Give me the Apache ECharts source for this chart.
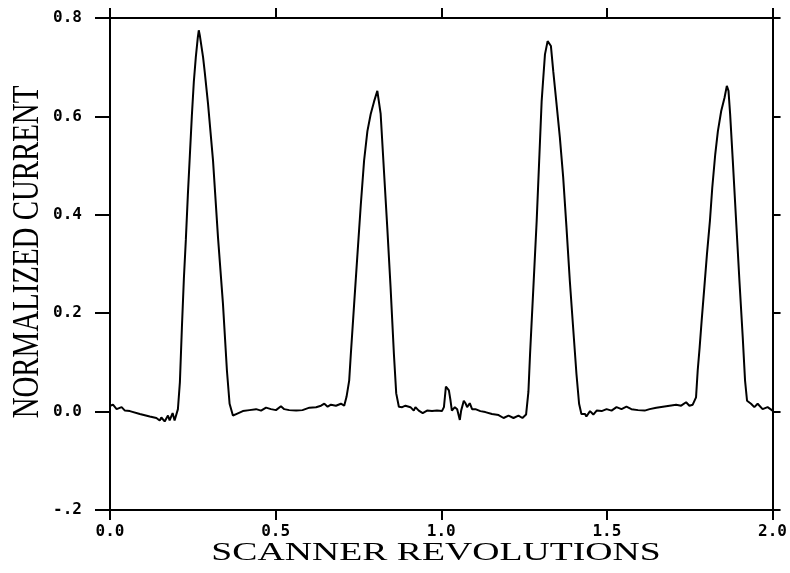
<!DOCTYPE html>
<html>
<head>
<meta charset="utf-8">
<script src="https://cdn.jsdelivr.net/npm/echarts@6/dist/echarts.min.js"></script>
<style>
  html, body { margin: 0; background: #fff; }
  #chart { width: 790px; height: 573px; }
</style>
</head>
<body>
<div id="chart"></div>
<script>
// scanner position (revolutions) and normalized current
const revolutions = [
  0.000, 0.009, 0.020, 0.035, 0.045, 0.060, 0.090, 0.120, 0.140, 0.150, 0.155, 0.165, 0.175, 0.180, 0.189, 0.195,
  0.205, 0.211, 0.217, 0.223, 0.229, 0.235, 0.241, 0.247, 0.253, 0.259, 0.265, 0.268, 0.271, 0.281, 0.286, 0.296,
  0.311, 0.326, 0.341, 0.353, 0.361, 0.371, 0.381, 0.401, 0.421, 0.441, 0.456, 0.471, 0.486, 0.501, 0.516, 0.526,
  0.541, 0.562, 0.581, 0.602, 0.622, 0.637, 0.647, 0.657, 0.667, 0.682, 0.697, 0.707, 0.714, 0.722, 0.727, 0.737,
  0.747, 0.757, 0.767, 0.777, 0.787, 0.797, 0.807, 0.817, 0.827, 0.837, 0.847, 0.857, 0.864, 0.872, 0.882, 0.892,
  0.907, 0.917, 0.922, 0.932, 0.944, 0.957, 0.972, 0.987, 1.002, 1.008, 1.014, 1.023, 1.028, 1.032, 1.041, 1.048,
  1.056, 1.060, 1.068, 1.073, 1.078, 1.086, 1.093, 1.103, 1.118, 1.133, 1.153, 1.173, 1.188, 1.203, 1.218, 1.233,
  1.245, 1.256, 1.263, 1.268, 1.273, 1.278, 1.283, 1.288, 1.293, 1.298, 1.303, 1.308, 1.313, 1.321, 1.325, 1.331,
  1.338, 1.348, 1.358, 1.368, 1.378, 1.388, 1.398, 1.408, 1.416, 1.423, 1.434, 1.438, 1.449, 1.459, 1.469, 1.484,
  1.499, 1.514, 1.529, 1.544, 1.559, 1.574, 1.594, 1.614, 1.629, 1.649, 1.669, 1.689, 1.709, 1.724, 1.739, 1.749,
  1.759, 1.769, 1.774, 1.780, 1.786, 1.794, 1.802, 1.811, 1.818, 1.827, 1.835, 1.845, 1.855, 1.862, 1.867, 1.872,
  1.880, 1.890, 1.900, 1.910, 1.917, 1.923, 1.935, 1.945, 1.955, 1.970, 1.985, 2.000
];
const current = [
  0.012, 0.014, 0.005, 0.009, 0.002, 0.001, -0.005, -0.010, -0.013, -0.018, -0.012, -0.020, -0.008, -0.018, -0.003, -0.018,
  0.005, 0.060, 0.170, 0.270, 0.350, 0.440, 0.520, 0.600, 0.670, 0.720, 0.760, 0.775, 0.765, 0.720, 0.690, 0.625,
  0.510, 0.354, 0.219, 0.083, 0.016, -0.008, -0.005, 0.001, 0.003, 0.005, 0.002, 0.008, 0.005, 0.003, 0.011, 0.005,
  0.003, 0.002, 0.003, 0.008, 0.009, 0.012, 0.016, 0.010, 0.014, 0.012, 0.016, 0.012, 0.030, 0.063, 0.117, 0.219,
  0.320, 0.420, 0.510, 0.570, 0.605, 0.630, 0.652, 0.605, 0.489, 0.374, 0.252, 0.117, 0.037, 0.010, 0.009, 0.012,
  0.009, 0.002, 0.009, 0.002, -0.003, 0.002, 0.001, 0.002, 0.001, 0.009, 0.051, 0.043, 0.022, 0.002, 0.009, 0.005,
  -0.017, 0.002, 0.022, 0.017, 0.009, 0.017, 0.005, 0.005, 0.001, -0.001, -0.005, -0.007, -0.013, -0.008, -0.013, -0.008,
  -0.013, -0.006, 0.040, 0.117, 0.185, 0.252, 0.320, 0.388, 0.469, 0.550, 0.631, 0.679, 0.726, 0.753, 0.757, 0.743,
  0.692, 0.625, 0.557, 0.476, 0.374, 0.266, 0.171, 0.077, 0.016, -0.005, -0.005, -0.010, 0.001, -0.006, 0.002, 0.001,
  0.005, 0.002, 0.009, 0.005, 0.010, 0.005, 0.003, 0.002, 0.005, 0.008, 0.010, 0.012, 0.014, 0.012, 0.019, 0.012,
  0.014, 0.029, 0.083, 0.131, 0.185, 0.252, 0.320, 0.388, 0.455, 0.523, 0.570, 0.611, 0.638, 0.662, 0.652, 0.604,
  0.510, 0.388, 0.266, 0.151, 0.063, 0.022, 0.016, 0.009, 0.016, 0.005, 0.009, 0.002
];
const xTickLabels = ['0.0', '0.5', '1.0', '1.5', '2.0'];
const yTickLabels = ['-.2', '0.0', '0.2', '0.4', '0.6', '0.8'];

const chart = echarts.init(document.getElementById('chart'));

const ink = '#000';
const tickFont = { color: ink, fontFamily: 'DejaVu Sans Mono', fontWeight: 'bold', fontSize: 16 };
const frameLine = { show: true, onZero: false, lineStyle: { color: ink, width: 2 } };
const tick = (length) => ({ show: true, inside: false, length, lineStyle: { color: ink, width: 2 } });

chart.setOption({
  backgroundColor: '#fff',
  animation: false,
  grid: { left: 110, right: 15, top: 18, bottom: 63 },
  xAxis: [
    {
      type: 'value',
      position: 'bottom',
      min: 0,
      max: 2,
      interval: 0.5,
      axisLine: frameLine,
      axisTick: tick(10),
      axisLabel: { ...tickFont, margin: 14, formatter: (v) => xTickLabels[Math.round(v / 0.5)] },
      splitLine: { show: false }
    },
    {
      type: 'value',
      position: 'top',
      min: 0,
      max: 2,
      interval: 0.5,
      axisLine: frameLine,
      axisTick: tick(10),
      axisLabel: { show: false },
      splitLine: { show: false }
    }
  ],
  yAxis: [
    {
      type: 'value',
      position: 'left',
      min: -0.2,
      max: 0.8,
      interval: 0.2,
      axisLine: frameLine,
      axisTick: tick(15),
      axisLabel: { ...tickFont, margin: 28, formatter: (v) => yTickLabels[Math.round((v + 0.2) / 0.2)] },
      splitLine: { show: false }
    },
    {
      type: 'value',
      position: 'right',
      min: -0.2,
      max: 0.8,
      interval: 0.2,
      axisLine: frameLine,
      axisTick: tick(8),
      axisLabel: { show: false },
      splitLine: { show: false }
    }
  ],
  graphic: [
    {
      type: 'text',
      x: 436,
      y: 553,
      scaleX: 1.45,
      style: {
        text: 'SCANNER REVOLUTIONS',
        font: '26px "Liberation Serif"',
        fill: ink,
        align: 'center',
        verticalAlign: 'middle',
        textAlign: 'center',
        textVerticalAlign: 'middle'
      }
    },
    {
      type: 'text',
      x: 28,
      y: 252,
      rotation: Math.PI / 2,
      scaleX: 0.78,
      style: {
        text: 'NORMALIZED CURRENT',
        font: '37px "Liberation Serif"',
        fill: ink,
        align: 'center',
        verticalAlign: 'middle',
        textAlign: 'center',
        textVerticalAlign: 'middle'
      }
    }
  ],
  series: [
    {
      type: 'line',
      xAxisIndex: 0,
      yAxisIndex: 0,
      data: revolutions.map((x, i) => [x, current[i]]),
      showSymbol: false,
      smooth: false,
      lineStyle: { color: ink, width: 2 }
    }
  ]
});
</script>
</body>
</html>
